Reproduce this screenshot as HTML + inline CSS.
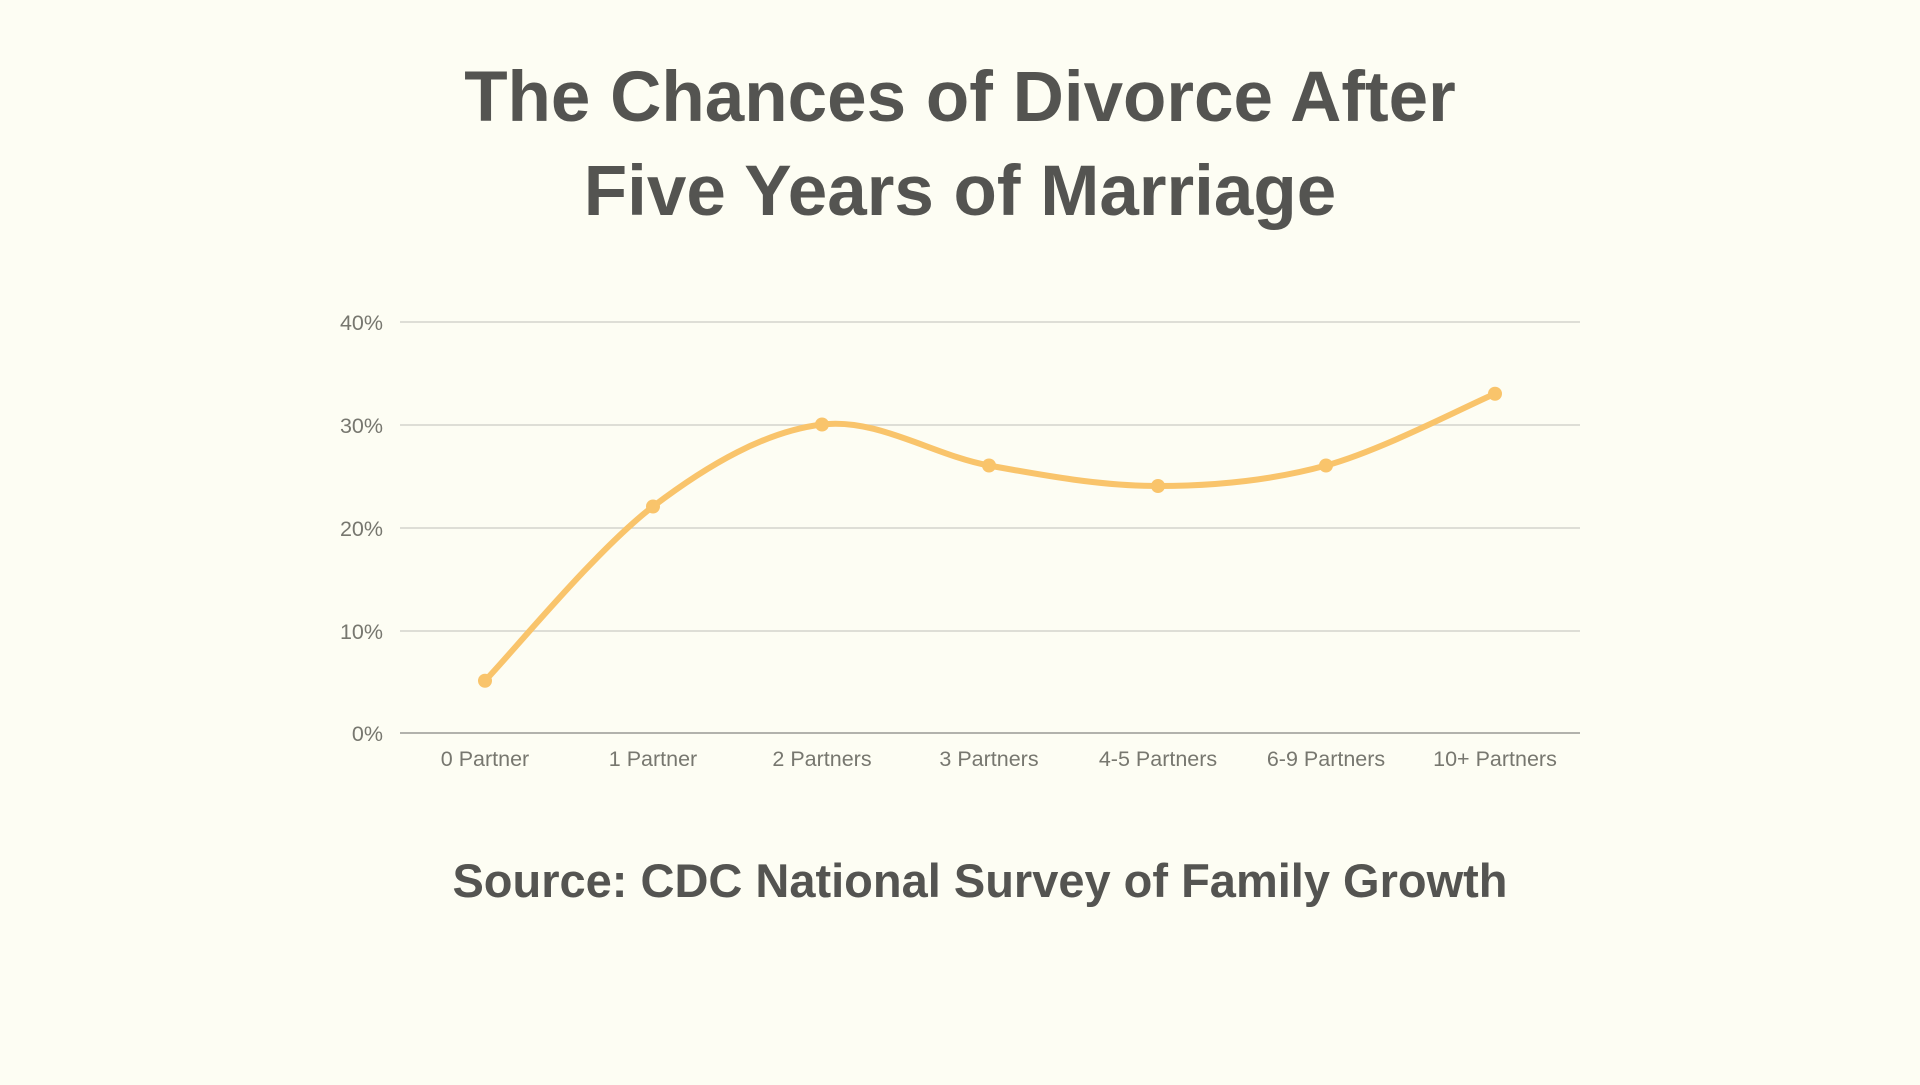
<!DOCTYPE html>
<html><head><meta charset="utf-8"><style>
html,body{margin:0;padding:0;background:#fdfdf3;}
body{width:1920px;height:1080px;overflow:hidden;}
</style></head><body>
<svg width="1920" height="1080" xmlns="http://www.w3.org/2000/svg">
<rect width="1920" height="1080" fill="#fdfdf3"/>
<g font-family="Liberation Sans, sans-serif" font-weight="bold" fill="#545451" text-anchor="middle">
<text x="960" y="121" font-size="71">The Chances of Divorce After</text>
<text x="960" y="215" font-size="71">Five Years of Marriage</text>
<text x="980" y="897" font-size="47">Source: CDC National Survey of Family Growth</text>
</g>
<g stroke="#d4d4cc" stroke-width="1.5">
<line x1="400" y1="322" x2="1580" y2="322"/>
<line x1="400" y1="425" x2="1580" y2="425"/>
<line x1="400" y1="528" x2="1580" y2="528"/>
<line x1="400" y1="631" x2="1580" y2="631"/>
</g>
<line x1="400" y1="733" x2="1580" y2="733" stroke="#9a9a94" stroke-width="1.5"/>
<g font-family="Liberation Sans, sans-serif" font-size="21.5" fill="#77776f">
<g text-anchor="end">
<text x="383" y="330">40%</text>
<text x="383" y="433">30%</text>
<text x="383" y="536">20%</text>
<text x="383" y="639">10%</text>
<text x="383" y="741">0%</text>
</g>
<g text-anchor="middle">
<text x="485" y="766">0 Partner</text>
<text x="653" y="766">1 Partner</text>
<text x="822" y="766">2 Partners</text>
<text x="989" y="766">3 Partners</text>
<text x="1158" y="766">4-5 Partners</text>
<text x="1326" y="766">6-9 Partners</text>
<text x="1495" y="766">10+ Partners</text>
</g>
</g>
<path d="M485,680.75 C513,651.7 596.8,549.2 653,506.5 C709.2,463.8 766,431.3 822,424.5 C878,417.7 933,455.25 989,465.5 C1045,475.75 1101.8,486 1158,486 C1214.2,486 1269.8,480.9 1326,465.5 C1382.2,450.1 1466.8,405.7 1495,393.75" fill="none" stroke="#f9c46b" stroke-width="6" stroke-linecap="round"/>
<g fill="#f9c46b">
<circle cx="485" cy="680.75" r="7"/>
<circle cx="653" cy="506.5" r="7"/>
<circle cx="822" cy="424.5" r="7"/>
<circle cx="989" cy="465.5" r="7"/>
<circle cx="1158" cy="486" r="7"/>
<circle cx="1326" cy="465.5" r="7"/>
<circle cx="1495" cy="393.75" r="7"/>
</g>
</svg>
</body></html>
